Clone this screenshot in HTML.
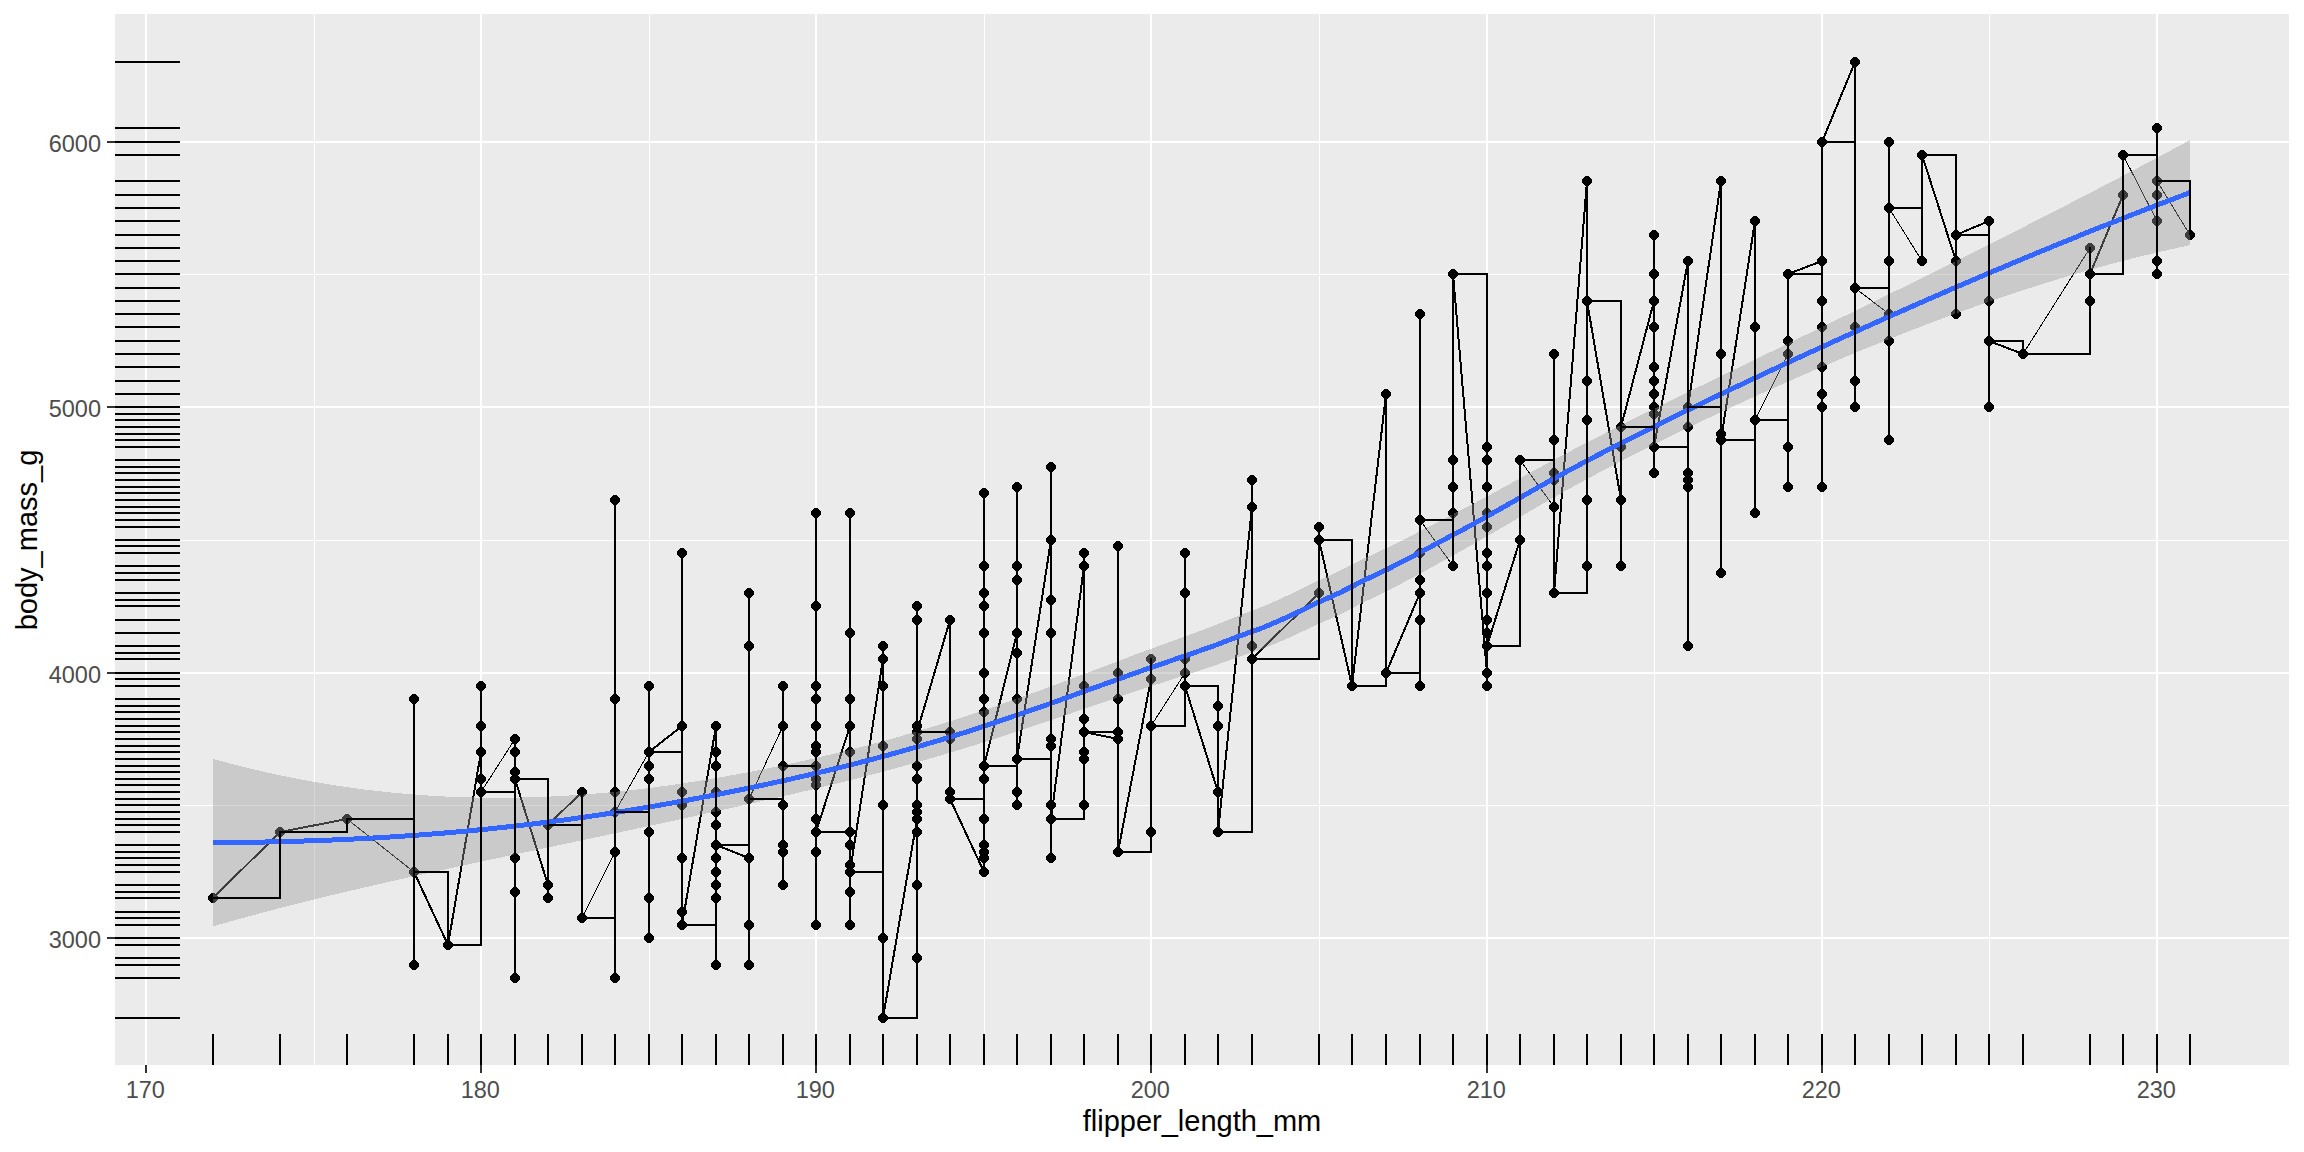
<!DOCTYPE html>
<html><head><meta charset="utf-8"><title>plot</title><style>html,body{margin:0;padding:0;background:#fff}body{width:2304px;height:1152px;overflow:hidden}</style></head><body>
<svg width="2304" height="1152" viewBox="0 0 2304 1152" style="display:block">
<rect width="2304" height="1152" fill="#fff"/>
<rect x="115" y="14" width="2174" height="1051" fill="#EBEBEB"/>
<clipPath id="c"><rect x="115" y="14" width="2174" height="1051"/></clipPath>
<g clip-path="url(#c)" shape-rendering="crispEdges">
<path d="M115 1071.5H2289M115 805.5H2289M115 540.5H2289M115 274.5H2289M115 9.5H2289M314.5 14V1065M649.5 14V1065M984.5 14V1065M1319.5 14V1065M1654.5 14V1065M1989.5 14V1065" stroke="#fff" stroke-width="1" fill="none"/>
<path d="M115 938H2289M115 673H2289M115 407H2289M115 142H2289M146 14V1065M481 14V1065M816 14V1065M1151 14V1065M1487 14V1065M1822 14V1065M2157 14V1065" stroke="#fff" stroke-width="2" fill="none"/>
<path d="M211.5 893h3l3.5 3.5v3l-3.5 3.5h-3l-3.5-3.5v-3zM278.5 827h3l3.5 3.5v3l-3.5 3.5h-3l-3.5-3.5v-3zM345.5 814h3l3.5 3.5v3l-3.5 3.5h-3l-3.5-3.5v-3zM412.5 960h3l3.5 3.5v3l-3.5 3.5h-3l-3.5-3.5v-3zM412.5 867h3l3.5 3.5v3l-3.5 3.5h-3l-3.5-3.5v-3zM412.5 694h3l3.5 3.5v3l-3.5 3.5h-3l-3.5-3.5v-3zM446.5 940h3l3.5 3.5v3l-3.5 3.5h-3l-3.5-3.5v-3zM479.5 787h3l3.5 3.5v3l-3.5 3.5h-3l-3.5-3.5v-3zM479.5 774h3l3.5 3.5v3l-3.5 3.5h-3l-3.5-3.5v-3zM479.5 747h3l3.5 3.5v3l-3.5 3.5h-3l-3.5-3.5v-3zM479.5 721h3l3.5 3.5v3l-3.5 3.5h-3l-3.5-3.5v-3zM479.5 681h3l3.5 3.5v3l-3.5 3.5h-3l-3.5-3.5v-3zM513.5 973h3l3.5 3.5v3l-3.5 3.5h-3l-3.5-3.5v-3zM513.5 887h3l3.5 3.5v3l-3.5 3.5h-3l-3.5-3.5v-3zM513.5 853h3l3.5 3.5v3l-3.5 3.5h-3l-3.5-3.5v-3zM513.5 774h3l3.5 3.5v3l-3.5 3.5h-3l-3.5-3.5v-3zM513.5 767h3l3.5 3.5v3l-3.5 3.5h-3l-3.5-3.5v-3zM513.5 747h3l3.5 3.5v3l-3.5 3.5h-3l-3.5-3.5v-3zM513.5 734h3l3.5 3.5v3l-3.5 3.5h-3l-3.5-3.5v-3zM546.5 893h3l3.5 3.5v3l-3.5 3.5h-3l-3.5-3.5v-3zM546.5 880h3l3.5 3.5v3l-3.5 3.5h-3l-3.5-3.5v-3zM546.5 820h3l3.5 3.5v3l-3.5 3.5h-3l-3.5-3.5v-3zM580.5 913h3l3.5 3.5v3l-3.5 3.5h-3l-3.5-3.5v-3zM580.5 787h3l3.5 3.5v3l-3.5 3.5h-3l-3.5-3.5v-3zM613.5 973h3l3.5 3.5v3l-3.5 3.5h-3l-3.5-3.5v-3zM613.5 847h3l3.5 3.5v3l-3.5 3.5h-3l-3.5-3.5v-3zM613.5 807h3l3.5 3.5v3l-3.5 3.5h-3l-3.5-3.5v-3zM613.5 787h3l3.5 3.5v3l-3.5 3.5h-3l-3.5-3.5v-3zM613.5 694h3l3.5 3.5v3l-3.5 3.5h-3l-3.5-3.5v-3zM613.5 495h3l3.5 3.5v3l-3.5 3.5h-3l-3.5-3.5v-3zM647.5 933h3l3.5 3.5v3l-3.5 3.5h-3l-3.5-3.5v-3zM647.5 893h3l3.5 3.5v3l-3.5 3.5h-3l-3.5-3.5v-3zM647.5 827h3l3.5 3.5v3l-3.5 3.5h-3l-3.5-3.5v-3zM647.5 774h3l3.5 3.5v3l-3.5 3.5h-3l-3.5-3.5v-3zM647.5 761h3l3.5 3.5v3l-3.5 3.5h-3l-3.5-3.5v-3zM647.5 747h3l3.5 3.5v3l-3.5 3.5h-3l-3.5-3.5v-3zM647.5 681h3l3.5 3.5v3l-3.5 3.5h-3l-3.5-3.5v-3zM680.5 920h3l3.5 3.5v3l-3.5 3.5h-3l-3.5-3.5v-3zM680.5 907h3l3.5 3.5v3l-3.5 3.5h-3l-3.5-3.5v-3zM680.5 853h3l3.5 3.5v3l-3.5 3.5h-3l-3.5-3.5v-3zM680.5 800h3l3.5 3.5v3l-3.5 3.5h-3l-3.5-3.5v-3zM680.5 787h3l3.5 3.5v3l-3.5 3.5h-3l-3.5-3.5v-3zM680.5 721h3l3.5 3.5v3l-3.5 3.5h-3l-3.5-3.5v-3zM680.5 548h3l3.5 3.5v3l-3.5 3.5h-3l-3.5-3.5v-3zM714.5 960h3l3.5 3.5v3l-3.5 3.5h-3l-3.5-3.5v-3zM714.5 893h3l3.5 3.5v3l-3.5 3.5h-3l-3.5-3.5v-3zM714.5 880h3l3.5 3.5v3l-3.5 3.5h-3l-3.5-3.5v-3zM714.5 867h3l3.5 3.5v3l-3.5 3.5h-3l-3.5-3.5v-3zM714.5 853h3l3.5 3.5v3l-3.5 3.5h-3l-3.5-3.5v-3zM714.5 840h3l3.5 3.5v3l-3.5 3.5h-3l-3.5-3.5v-3zM714.5 820h3l3.5 3.5v3l-3.5 3.5h-3l-3.5-3.5v-3zM714.5 807h3l3.5 3.5v3l-3.5 3.5h-3l-3.5-3.5v-3zM714.5 787h3l3.5 3.5v3l-3.5 3.5h-3l-3.5-3.5v-3zM714.5 761h3l3.5 3.5v3l-3.5 3.5h-3l-3.5-3.5v-3zM714.5 747h3l3.5 3.5v3l-3.5 3.5h-3l-3.5-3.5v-3zM714.5 721h3l3.5 3.5v3l-3.5 3.5h-3l-3.5-3.5v-3zM747.5 960h3l3.5 3.5v3l-3.5 3.5h-3l-3.5-3.5v-3zM747.5 920h3l3.5 3.5v3l-3.5 3.5h-3l-3.5-3.5v-3zM747.5 853h3l3.5 3.5v3l-3.5 3.5h-3l-3.5-3.5v-3zM747.5 794h3l3.5 3.5v3l-3.5 3.5h-3l-3.5-3.5v-3zM747.5 641h3l3.5 3.5v3l-3.5 3.5h-3l-3.5-3.5v-3zM747.5 588h3l3.5 3.5v3l-3.5 3.5h-3l-3.5-3.5v-3zM781.5 880h3l3.5 3.5v3l-3.5 3.5h-3l-3.5-3.5v-3zM781.5 847h3l3.5 3.5v3l-3.5 3.5h-3l-3.5-3.5v-3zM781.5 840h3l3.5 3.5v3l-3.5 3.5h-3l-3.5-3.5v-3zM781.5 800h3l3.5 3.5v3l-3.5 3.5h-3l-3.5-3.5v-3zM781.5 761h3l3.5 3.5v3l-3.5 3.5h-3l-3.5-3.5v-3zM781.5 721h3l3.5 3.5v3l-3.5 3.5h-3l-3.5-3.5v-3zM781.5 681h3l3.5 3.5v3l-3.5 3.5h-3l-3.5-3.5v-3zM814.5 920h3l3.5 3.5v3l-3.5 3.5h-3l-3.5-3.5v-3zM814.5 847h3l3.5 3.5v3l-3.5 3.5h-3l-3.5-3.5v-3zM814.5 827h3l3.5 3.5v3l-3.5 3.5h-3l-3.5-3.5v-3zM814.5 814h3l3.5 3.5v3l-3.5 3.5h-3l-3.5-3.5v-3zM814.5 780h3l3.5 3.5v3l-3.5 3.5h-3l-3.5-3.5v-3zM814.5 774h3l3.5 3.5v3l-3.5 3.5h-3l-3.5-3.5v-3zM814.5 761h3l3.5 3.5v3l-3.5 3.5h-3l-3.5-3.5v-3zM814.5 747h3l3.5 3.5v3l-3.5 3.5h-3l-3.5-3.5v-3zM814.5 741h3l3.5 3.5v3l-3.5 3.5h-3l-3.5-3.5v-3zM814.5 721h3l3.5 3.5v3l-3.5 3.5h-3l-3.5-3.5v-3zM814.5 694h3l3.5 3.5v3l-3.5 3.5h-3l-3.5-3.5v-3zM814.5 681h3l3.5 3.5v3l-3.5 3.5h-3l-3.5-3.5v-3zM814.5 601h3l3.5 3.5v3l-3.5 3.5h-3l-3.5-3.5v-3zM814.5 508h3l3.5 3.5v3l-3.5 3.5h-3l-3.5-3.5v-3zM848.5 920h3l3.5 3.5v3l-3.5 3.5h-3l-3.5-3.5v-3zM848.5 887h3l3.5 3.5v3l-3.5 3.5h-3l-3.5-3.5v-3zM848.5 867h3l3.5 3.5v3l-3.5 3.5h-3l-3.5-3.5v-3zM848.5 860h3l3.5 3.5v3l-3.5 3.5h-3l-3.5-3.5v-3zM848.5 840h3l3.5 3.5v3l-3.5 3.5h-3l-3.5-3.5v-3zM848.5 827h3l3.5 3.5v3l-3.5 3.5h-3l-3.5-3.5v-3zM848.5 747h3l3.5 3.5v3l-3.5 3.5h-3l-3.5-3.5v-3zM848.5 721h3l3.5 3.5v3l-3.5 3.5h-3l-3.5-3.5v-3zM848.5 694h3l3.5 3.5v3l-3.5 3.5h-3l-3.5-3.5v-3zM848.5 628h3l3.5 3.5v3l-3.5 3.5h-3l-3.5-3.5v-3zM848.5 508h3l3.5 3.5v3l-3.5 3.5h-3l-3.5-3.5v-3zM881.5 1013h3l3.5 3.5v3l-3.5 3.5h-3l-3.5-3.5v-3zM881.5 933h3l3.5 3.5v3l-3.5 3.5h-3l-3.5-3.5v-3zM881.5 800h3l3.5 3.5v3l-3.5 3.5h-3l-3.5-3.5v-3zM881.5 741h3l3.5 3.5v3l-3.5 3.5h-3l-3.5-3.5v-3zM881.5 681h3l3.5 3.5v3l-3.5 3.5h-3l-3.5-3.5v-3zM881.5 654h3l3.5 3.5v3l-3.5 3.5h-3l-3.5-3.5v-3zM881.5 641h3l3.5 3.5v3l-3.5 3.5h-3l-3.5-3.5v-3zM915.5 953h3l3.5 3.5v3l-3.5 3.5h-3l-3.5-3.5v-3zM915.5 880h3l3.5 3.5v3l-3.5 3.5h-3l-3.5-3.5v-3zM915.5 827h3l3.5 3.5v3l-3.5 3.5h-3l-3.5-3.5v-3zM915.5 814h3l3.5 3.5v3l-3.5 3.5h-3l-3.5-3.5v-3zM915.5 807h3l3.5 3.5v3l-3.5 3.5h-3l-3.5-3.5v-3zM915.5 800h3l3.5 3.5v3l-3.5 3.5h-3l-3.5-3.5v-3zM915.5 774h3l3.5 3.5v3l-3.5 3.5h-3l-3.5-3.5v-3zM915.5 761h3l3.5 3.5v3l-3.5 3.5h-3l-3.5-3.5v-3zM915.5 734h3l3.5 3.5v3l-3.5 3.5h-3l-3.5-3.5v-3zM915.5 727h3l3.5 3.5v3l-3.5 3.5h-3l-3.5-3.5v-3zM915.5 721h3l3.5 3.5v3l-3.5 3.5h-3l-3.5-3.5v-3zM915.5 615h3l3.5 3.5v3l-3.5 3.5h-3l-3.5-3.5v-3zM915.5 601h3l3.5 3.5v3l-3.5 3.5h-3l-3.5-3.5v-3zM948.5 794h3l3.5 3.5v3l-3.5 3.5h-3l-3.5-3.5v-3zM948.5 787h3l3.5 3.5v3l-3.5 3.5h-3l-3.5-3.5v-3zM948.5 734h3l3.5 3.5v3l-3.5 3.5h-3l-3.5-3.5v-3zM948.5 727h3l3.5 3.5v3l-3.5 3.5h-3l-3.5-3.5v-3zM948.5 615h3l3.5 3.5v3l-3.5 3.5h-3l-3.5-3.5v-3zM982.5 867h3l3.5 3.5v3l-3.5 3.5h-3l-3.5-3.5v-3zM982.5 853h3l3.5 3.5v3l-3.5 3.5h-3l-3.5-3.5v-3zM982.5 847h3l3.5 3.5v3l-3.5 3.5h-3l-3.5-3.5v-3zM982.5 840h3l3.5 3.5v3l-3.5 3.5h-3l-3.5-3.5v-3zM982.5 814h3l3.5 3.5v3l-3.5 3.5h-3l-3.5-3.5v-3zM982.5 774h3l3.5 3.5v3l-3.5 3.5h-3l-3.5-3.5v-3zM982.5 761h3l3.5 3.5v3l-3.5 3.5h-3l-3.5-3.5v-3zM982.5 707h3l3.5 3.5v3l-3.5 3.5h-3l-3.5-3.5v-3zM982.5 694h3l3.5 3.5v3l-3.5 3.5h-3l-3.5-3.5v-3zM982.5 668h3l3.5 3.5v3l-3.5 3.5h-3l-3.5-3.5v-3zM982.5 628h3l3.5 3.5v3l-3.5 3.5h-3l-3.5-3.5v-3zM982.5 601h3l3.5 3.5v3l-3.5 3.5h-3l-3.5-3.5v-3zM982.5 588h3l3.5 3.5v3l-3.5 3.5h-3l-3.5-3.5v-3zM982.5 561h3l3.5 3.5v3l-3.5 3.5h-3l-3.5-3.5v-3zM982.5 488h3l3.5 3.5v3l-3.5 3.5h-3l-3.5-3.5v-3zM1015.5 800h3l3.5 3.5v3l-3.5 3.5h-3l-3.5-3.5v-3zM1015.5 787h3l3.5 3.5v3l-3.5 3.5h-3l-3.5-3.5v-3zM1015.5 754h3l3.5 3.5v3l-3.5 3.5h-3l-3.5-3.5v-3zM1015.5 694h3l3.5 3.5v3l-3.5 3.5h-3l-3.5-3.5v-3zM1015.5 648h3l3.5 3.5v3l-3.5 3.5h-3l-3.5-3.5v-3zM1015.5 628h3l3.5 3.5v3l-3.5 3.5h-3l-3.5-3.5v-3zM1015.5 575h3l3.5 3.5v3l-3.5 3.5h-3l-3.5-3.5v-3zM1015.5 561h3l3.5 3.5v3l-3.5 3.5h-3l-3.5-3.5v-3zM1015.5 482h3l3.5 3.5v3l-3.5 3.5h-3l-3.5-3.5v-3zM1049.5 853h3l3.5 3.5v3l-3.5 3.5h-3l-3.5-3.5v-3zM1049.5 814h3l3.5 3.5v3l-3.5 3.5h-3l-3.5-3.5v-3zM1049.5 800h3l3.5 3.5v3l-3.5 3.5h-3l-3.5-3.5v-3zM1049.5 741h3l3.5 3.5v3l-3.5 3.5h-3l-3.5-3.5v-3zM1049.5 734h3l3.5 3.5v3l-3.5 3.5h-3l-3.5-3.5v-3zM1049.5 628h3l3.5 3.5v3l-3.5 3.5h-3l-3.5-3.5v-3zM1049.5 595h3l3.5 3.5v3l-3.5 3.5h-3l-3.5-3.5v-3zM1049.5 535h3l3.5 3.5v3l-3.5 3.5h-3l-3.5-3.5v-3zM1049.5 462h3l3.5 3.5v3l-3.5 3.5h-3l-3.5-3.5v-3zM1082.5 800h3l3.5 3.5v3l-3.5 3.5h-3l-3.5-3.5v-3zM1082.5 754h3l3.5 3.5v3l-3.5 3.5h-3l-3.5-3.5v-3zM1082.5 747h3l3.5 3.5v3l-3.5 3.5h-3l-3.5-3.5v-3zM1082.5 727h3l3.5 3.5v3l-3.5 3.5h-3l-3.5-3.5v-3zM1082.5 714h3l3.5 3.5v3l-3.5 3.5h-3l-3.5-3.5v-3zM1082.5 681h3l3.5 3.5v3l-3.5 3.5h-3l-3.5-3.5v-3zM1082.5 561h3l3.5 3.5v3l-3.5 3.5h-3l-3.5-3.5v-3zM1082.5 548h3l3.5 3.5v3l-3.5 3.5h-3l-3.5-3.5v-3zM1116.5 847h3l3.5 3.5v3l-3.5 3.5h-3l-3.5-3.5v-3zM1116.5 734h3l3.5 3.5v3l-3.5 3.5h-3l-3.5-3.5v-3zM1116.5 727h3l3.5 3.5v3l-3.5 3.5h-3l-3.5-3.5v-3zM1116.5 694h3l3.5 3.5v3l-3.5 3.5h-3l-3.5-3.5v-3zM1116.5 668h3l3.5 3.5v3l-3.5 3.5h-3l-3.5-3.5v-3zM1116.5 541h3l3.5 3.5v3l-3.5 3.5h-3l-3.5-3.5v-3zM1149.5 827h3l3.5 3.5v3l-3.5 3.5h-3l-3.5-3.5v-3zM1149.5 721h3l3.5 3.5v3l-3.5 3.5h-3l-3.5-3.5v-3zM1149.5 674h3l3.5 3.5v3l-3.5 3.5h-3l-3.5-3.5v-3zM1149.5 654h3l3.5 3.5v3l-3.5 3.5h-3l-3.5-3.5v-3zM1183.5 681h3l3.5 3.5v3l-3.5 3.5h-3l-3.5-3.5v-3zM1183.5 668h3l3.5 3.5v3l-3.5 3.5h-3l-3.5-3.5v-3zM1183.5 654h3l3.5 3.5v3l-3.5 3.5h-3l-3.5-3.5v-3zM1183.5 588h3l3.5 3.5v3l-3.5 3.5h-3l-3.5-3.5v-3zM1183.5 548h3l3.5 3.5v3l-3.5 3.5h-3l-3.5-3.5v-3zM1216.5 827h3l3.5 3.5v3l-3.5 3.5h-3l-3.5-3.5v-3zM1216.5 787h3l3.5 3.5v3l-3.5 3.5h-3l-3.5-3.5v-3zM1216.5 721h3l3.5 3.5v3l-3.5 3.5h-3l-3.5-3.5v-3zM1216.5 701h3l3.5 3.5v3l-3.5 3.5h-3l-3.5-3.5v-3zM1250.5 654h3l3.5 3.5v3l-3.5 3.5h-3l-3.5-3.5v-3zM1250.5 641h3l3.5 3.5v3l-3.5 3.5h-3l-3.5-3.5v-3zM1250.5 502h3l3.5 3.5v3l-3.5 3.5h-3l-3.5-3.5v-3zM1250.5 475h3l3.5 3.5v3l-3.5 3.5h-3l-3.5-3.5v-3zM1317.5 588h3l3.5 3.5v3l-3.5 3.5h-3l-3.5-3.5v-3zM1317.5 535h3l3.5 3.5v3l-3.5 3.5h-3l-3.5-3.5v-3zM1317.5 522h3l3.5 3.5v3l-3.5 3.5h-3l-3.5-3.5v-3zM1350.5 681h3l3.5 3.5v3l-3.5 3.5h-3l-3.5-3.5v-3zM1384.5 668h3l3.5 3.5v3l-3.5 3.5h-3l-3.5-3.5v-3zM1384.5 389h3l3.5 3.5v3l-3.5 3.5h-3l-3.5-3.5v-3zM1418.5 681h3l3.5 3.5v3l-3.5 3.5h-3l-3.5-3.5v-3zM1418.5 615h3l3.5 3.5v3l-3.5 3.5h-3l-3.5-3.5v-3zM1418.5 588h3l3.5 3.5v3l-3.5 3.5h-3l-3.5-3.5v-3zM1418.5 575h3l3.5 3.5v3l-3.5 3.5h-3l-3.5-3.5v-3zM1418.5 548h3l3.5 3.5v3l-3.5 3.5h-3l-3.5-3.5v-3zM1418.5 515h3l3.5 3.5v3l-3.5 3.5h-3l-3.5-3.5v-3zM1418.5 309h3l3.5 3.5v3l-3.5 3.5h-3l-3.5-3.5v-3zM1451.5 561h3l3.5 3.5v3l-3.5 3.5h-3l-3.5-3.5v-3zM1451.5 508h3l3.5 3.5v3l-3.5 3.5h-3l-3.5-3.5v-3zM1451.5 482h3l3.5 3.5v3l-3.5 3.5h-3l-3.5-3.5v-3zM1451.5 455h3l3.5 3.5v3l-3.5 3.5h-3l-3.5-3.5v-3zM1451.5 269h3l3.5 3.5v3l-3.5 3.5h-3l-3.5-3.5v-3zM1485.5 681h3l3.5 3.5v3l-3.5 3.5h-3l-3.5-3.5v-3zM1485.5 668h3l3.5 3.5v3l-3.5 3.5h-3l-3.5-3.5v-3zM1485.5 641h3l3.5 3.5v3l-3.5 3.5h-3l-3.5-3.5v-3zM1485.5 628h3l3.5 3.5v3l-3.5 3.5h-3l-3.5-3.5v-3zM1485.5 615h3l3.5 3.5v3l-3.5 3.5h-3l-3.5-3.5v-3zM1485.5 588h3l3.5 3.5v3l-3.5 3.5h-3l-3.5-3.5v-3zM1485.5 561h3l3.5 3.5v3l-3.5 3.5h-3l-3.5-3.5v-3zM1485.5 548h3l3.5 3.5v3l-3.5 3.5h-3l-3.5-3.5v-3zM1485.5 522h3l3.5 3.5v3l-3.5 3.5h-3l-3.5-3.5v-3zM1485.5 508h3l3.5 3.5v3l-3.5 3.5h-3l-3.5-3.5v-3zM1485.5 482h3l3.5 3.5v3l-3.5 3.5h-3l-3.5-3.5v-3zM1485.5 455h3l3.5 3.5v3l-3.5 3.5h-3l-3.5-3.5v-3zM1485.5 442h3l3.5 3.5v3l-3.5 3.5h-3l-3.5-3.5v-3zM1518.5 535h3l3.5 3.5v3l-3.5 3.5h-3l-3.5-3.5v-3zM1518.5 455h3l3.5 3.5v3l-3.5 3.5h-3l-3.5-3.5v-3zM1552.5 588h3l3.5 3.5v3l-3.5 3.5h-3l-3.5-3.5v-3zM1552.5 502h3l3.5 3.5v3l-3.5 3.5h-3l-3.5-3.5v-3zM1552.5 475h3l3.5 3.5v3l-3.5 3.5h-3l-3.5-3.5v-3zM1552.5 468h3l3.5 3.5v3l-3.5 3.5h-3l-3.5-3.5v-3zM1552.5 435h3l3.5 3.5v3l-3.5 3.5h-3l-3.5-3.5v-3zM1552.5 349h3l3.5 3.5v3l-3.5 3.5h-3l-3.5-3.5v-3zM1585.5 561h3l3.5 3.5v3l-3.5 3.5h-3l-3.5-3.5v-3zM1585.5 495h3l3.5 3.5v3l-3.5 3.5h-3l-3.5-3.5v-3zM1585.5 415h3l3.5 3.5v3l-3.5 3.5h-3l-3.5-3.5v-3zM1585.5 376h3l3.5 3.5v3l-3.5 3.5h-3l-3.5-3.5v-3zM1585.5 296h3l3.5 3.5v3l-3.5 3.5h-3l-3.5-3.5v-3zM1585.5 176h3l3.5 3.5v3l-3.5 3.5h-3l-3.5-3.5v-3zM1619.5 561h3l3.5 3.5v3l-3.5 3.5h-3l-3.5-3.5v-3zM1619.5 495h3l3.5 3.5v3l-3.5 3.5h-3l-3.5-3.5v-3zM1619.5 442h3l3.5 3.5v3l-3.5 3.5h-3l-3.5-3.5v-3zM1619.5 422h3l3.5 3.5v3l-3.5 3.5h-3l-3.5-3.5v-3zM1652.5 468h3l3.5 3.5v3l-3.5 3.5h-3l-3.5-3.5v-3zM1652.5 442h3l3.5 3.5v3l-3.5 3.5h-3l-3.5-3.5v-3zM1652.5 409h3l3.5 3.5v3l-3.5 3.5h-3l-3.5-3.5v-3zM1652.5 402h3l3.5 3.5v3l-3.5 3.5h-3l-3.5-3.5v-3zM1652.5 389h3l3.5 3.5v3l-3.5 3.5h-3l-3.5-3.5v-3zM1652.5 376h3l3.5 3.5v3l-3.5 3.5h-3l-3.5-3.5v-3zM1652.5 362h3l3.5 3.5v3l-3.5 3.5h-3l-3.5-3.5v-3zM1652.5 322h3l3.5 3.5v3l-3.5 3.5h-3l-3.5-3.5v-3zM1652.5 296h3l3.5 3.5v3l-3.5 3.5h-3l-3.5-3.5v-3zM1652.5 269h3l3.5 3.5v3l-3.5 3.5h-3l-3.5-3.5v-3zM1652.5 230h3l3.5 3.5v3l-3.5 3.5h-3l-3.5-3.5v-3zM1686.5 641h3l3.5 3.5v3l-3.5 3.5h-3l-3.5-3.5v-3zM1686.5 482h3l3.5 3.5v3l-3.5 3.5h-3l-3.5-3.5v-3zM1686.5 475h3l3.5 3.5v3l-3.5 3.5h-3l-3.5-3.5v-3zM1686.5 468h3l3.5 3.5v3l-3.5 3.5h-3l-3.5-3.5v-3zM1686.5 422h3l3.5 3.5v3l-3.5 3.5h-3l-3.5-3.5v-3zM1686.5 402h3l3.5 3.5v3l-3.5 3.5h-3l-3.5-3.5v-3zM1686.5 256h3l3.5 3.5v3l-3.5 3.5h-3l-3.5-3.5v-3zM1719.5 568h3l3.5 3.5v3l-3.5 3.5h-3l-3.5-3.5v-3zM1719.5 435h3l3.5 3.5v3l-3.5 3.5h-3l-3.5-3.5v-3zM1719.5 429h3l3.5 3.5v3l-3.5 3.5h-3l-3.5-3.5v-3zM1719.5 349h3l3.5 3.5v3l-3.5 3.5h-3l-3.5-3.5v-3zM1719.5 176h3l3.5 3.5v3l-3.5 3.5h-3l-3.5-3.5v-3zM1753.5 508h3l3.5 3.5v3l-3.5 3.5h-3l-3.5-3.5v-3zM1753.5 415h3l3.5 3.5v3l-3.5 3.5h-3l-3.5-3.5v-3zM1753.5 322h3l3.5 3.5v3l-3.5 3.5h-3l-3.5-3.5v-3zM1753.5 216h3l3.5 3.5v3l-3.5 3.5h-3l-3.5-3.5v-3zM1786.5 482h3l3.5 3.5v3l-3.5 3.5h-3l-3.5-3.5v-3zM1786.5 442h3l3.5 3.5v3l-3.5 3.5h-3l-3.5-3.5v-3zM1786.5 349h3l3.5 3.5v3l-3.5 3.5h-3l-3.5-3.5v-3zM1786.5 336h3l3.5 3.5v3l-3.5 3.5h-3l-3.5-3.5v-3zM1786.5 269h3l3.5 3.5v3l-3.5 3.5h-3l-3.5-3.5v-3zM1820.5 482h3l3.5 3.5v3l-3.5 3.5h-3l-3.5-3.5v-3zM1820.5 402h3l3.5 3.5v3l-3.5 3.5h-3l-3.5-3.5v-3zM1820.5 389h3l3.5 3.5v3l-3.5 3.5h-3l-3.5-3.5v-3zM1820.5 362h3l3.5 3.5v3l-3.5 3.5h-3l-3.5-3.5v-3zM1820.5 322h3l3.5 3.5v3l-3.5 3.5h-3l-3.5-3.5v-3zM1820.5 296h3l3.5 3.5v3l-3.5 3.5h-3l-3.5-3.5v-3zM1820.5 256h3l3.5 3.5v3l-3.5 3.5h-3l-3.5-3.5v-3zM1820.5 137h3l3.5 3.5v3l-3.5 3.5h-3l-3.5-3.5v-3zM1853.5 402h3l3.5 3.5v3l-3.5 3.5h-3l-3.5-3.5v-3zM1853.5 376h3l3.5 3.5v3l-3.5 3.5h-3l-3.5-3.5v-3zM1853.5 322h3l3.5 3.5v3l-3.5 3.5h-3l-3.5-3.5v-3zM1853.5 283h3l3.5 3.5v3l-3.5 3.5h-3l-3.5-3.5v-3zM1853.5 57h3l3.5 3.5v3l-3.5 3.5h-3l-3.5-3.5v-3zM1887.5 435h3l3.5 3.5v3l-3.5 3.5h-3l-3.5-3.5v-3zM1887.5 336h3l3.5 3.5v3l-3.5 3.5h-3l-3.5-3.5v-3zM1887.5 309h3l3.5 3.5v3l-3.5 3.5h-3l-3.5-3.5v-3zM1887.5 256h3l3.5 3.5v3l-3.5 3.5h-3l-3.5-3.5v-3zM1887.5 203h3l3.5 3.5v3l-3.5 3.5h-3l-3.5-3.5v-3zM1887.5 137h3l3.5 3.5v3l-3.5 3.5h-3l-3.5-3.5v-3zM1920.5 256h3l3.5 3.5v3l-3.5 3.5h-3l-3.5-3.5v-3zM1920.5 150h3l3.5 3.5v3l-3.5 3.5h-3l-3.5-3.5v-3zM1954.5 309h3l3.5 3.5v3l-3.5 3.5h-3l-3.5-3.5v-3zM1954.5 256h3l3.5 3.5v3l-3.5 3.5h-3l-3.5-3.5v-3zM1954.5 230h3l3.5 3.5v3l-3.5 3.5h-3l-3.5-3.5v-3zM1987.5 402h3l3.5 3.5v3l-3.5 3.5h-3l-3.5-3.5v-3zM1987.5 336h3l3.5 3.5v3l-3.5 3.5h-3l-3.5-3.5v-3zM1987.5 296h3l3.5 3.5v3l-3.5 3.5h-3l-3.5-3.5v-3zM1987.5 216h3l3.5 3.5v3l-3.5 3.5h-3l-3.5-3.5v-3zM2021.5 349h3l3.5 3.5v3l-3.5 3.5h-3l-3.5-3.5v-3zM2088.5 296h3l3.5 3.5v3l-3.5 3.5h-3l-3.5-3.5v-3zM2088.5 269h3l3.5 3.5v3l-3.5 3.5h-3l-3.5-3.5v-3zM2088.5 243h3l3.5 3.5v3l-3.5 3.5h-3l-3.5-3.5v-3zM2121.5 190h3l3.5 3.5v3l-3.5 3.5h-3l-3.5-3.5v-3zM2121.5 150h3l3.5 3.5v3l-3.5 3.5h-3l-3.5-3.5v-3zM2155.5 269h3l3.5 3.5v3l-3.5 3.5h-3l-3.5-3.5v-3zM2155.5 256h3l3.5 3.5v3l-3.5 3.5h-3l-3.5-3.5v-3zM2155.5 216h3l3.5 3.5v3l-3.5 3.5h-3l-3.5-3.5v-3zM2155.5 190h3l3.5 3.5v3l-3.5 3.5h-3l-3.5-3.5v-3zM2155.5 176h3l3.5 3.5v3l-3.5 3.5h-3l-3.5-3.5v-3zM2155.5 123h3l3.5 3.5v3l-3.5 3.5h-3l-3.5-3.5v-3zM2188.5 230h3l3.5 3.5v3l-3.5 3.5h-3l-3.5-3.5v-3z" fill="#000" stroke="none"/>
<path d="M213 898L280 832M280 832L347 819M414 872V699M414 699V965M414 965V872M414 872L448 945M448 945L481 752M481 752V686M481 686V792M481 792V792M515 739V739M515 739V978M515 978V779M515 779L548 885M548 885V825M548 825V898M548 898V825M548 825L582 792M582 792V792M582 792V918M582 918V918M615 852V500M615 500V978M615 978V812M649 752V686M649 686V938M649 938V752M649 752L682 726M682 726V553M682 553V925M682 925V925M682 925L716 726M716 726V726M716 726V965M716 965V845M716 845L749 858M749 858V593M749 593V965M749 965V799M783 726V686M783 686V885M783 885V766M783 766L816 766M816 766V513M816 513V925M816 925V832M816 832L850 726M850 726V513M850 513V925M850 925V872M850 872L883 659M883 659V646M883 646V1018M883 1018V1018M883 1018L917 819M917 819V606M917 606V958M917 958V732M917 732L950 620M950 620V620M950 620V799M950 799V799M950 799L984 872M984 872V493M984 493V872M984 872V766M984 766L1017 633M1017 633V487M1017 487V805M1017 805V759M1017 759L1051 540M1051 540V467M1051 467V858M1051 858V819M1051 819L1084 566M1084 566V553M1084 553V805M1084 805V732M1084 732L1118 739M1118 739V546M1118 546V852M1118 852V852M1118 852L1151 679M1151 679V659M1151 659V832M1151 832V726M1185 673V553M1185 553V686M1185 686V686M1185 686L1218 792M1218 792V706M1218 706V832M1218 832V832M1218 832L1252 507M1252 507V480M1252 480V659M1252 659V659M1252 659L1319 593M1319 593V527M1319 527V593M1319 593V540M1319 540L1352 686M1352 686L1386 394M1386 394V394M1386 394V673M1386 673V673M1386 673L1420 593M1420 593V314M1420 314V686M1420 686V520M1453 566V274M1453 274V566M1453 566V274M1453 274L1487 673M1487 673V447M1487 447V686M1487 686V646M1487 646L1520 540M1520 540V460M1520 460V540M1520 540V460M1554 507V354M1554 354V593M1554 593V593M1554 593L1587 181M1587 181V181M1587 181V566M1587 566V301M1587 301L1621 500M1621 500V427M1621 427V566M1621 566V427M1621 427L1654 301M1654 301V235M1654 235V473M1654 473V447M1654 447L1688 261M1688 261V261M1688 261V646M1688 646V407M1688 407L1721 181M1721 181V181M1721 181V573M1721 573V440M1721 440L1755 221M1755 221V221M1755 221V513M1755 513V420M1788 354V274M1788 274V487M1788 487V274M1788 274L1822 261M1822 261V142M1822 142V487M1822 487V142M1822 142L1855 62M1855 62V62M1855 62V407M1855 407V288M1889 314V142M1889 142V440M1889 440V208M1922 261V155M1922 155V261M1922 261V155M1922 155L1956 261M1956 261V235M1956 235V314M1956 314V235M1956 235L1989 221M1989 221V221M1989 221V407M1989 407V341M1989 341L2023 354M2090 248V248M2090 248V301M2090 301V274M2090 274L2123 195M2123 195V155M2123 155V195M2123 195V155M2157 221V128M2157 128V274M2157 274V181" stroke="#000" stroke-width="2" fill="none" stroke-linecap="round"/>
<path d="M347 819L414 872M481 792L515 739M582 918L615 852M615 812L649 752M749 799L783 726M1151 726L1185 673M1420 520L1453 566M1520 460L1554 507M1755 420L1788 354M1855 288L1889 314M1889 208L1922 261M2023 354L2090 248M2123 155L2157 221M2157 181L2190 235" stroke="#000" stroke-width="1" fill="none" stroke-linecap="round"/>
<path d="M213 758.85L238.03 765.55L263.05 771.6L288.08 777L313.1 781.76L338.13 785.89L363.15 789.39L388.18 792.27L413.2 794.54L438.23 796.21L463.25 797.29L488.28 797.78L513.3 797.71L538.33 797.08L563.35 795.9L588.38 794.21L613.41 792L638.43 789.3L663.46 786.13L688.48 782.51L713.51 778.47L738.53 774.04L763.56 769.24L788.58 764.07L813.61 758.54L838.63 752.64L863.66 746.34L888.68 739.63L913.71 732.42L938.73 724.93L963.76 717.01L988.78 708.6L1013.81 699.72L1038.84 690.91L1063.86 681.54L1088.89 672.13L1113.91 662.77L1138.94 653.2L1163.96 644.08L1188.99 634.97L1214.01 625.68L1239.04 615.56L1264.06 606.16L1289.09 594.9L1314.11 582.5L1339.14 571.18L1364.16 558.53L1389.19 546.81L1414.22 534.18L1439.24 521.26L1464.27 508.47L1489.29 495.2L1514.32 481.5L1539.34 467.73L1564.37 454.27L1589.39 441.21L1614.42 428.47L1639.44 415.97L1664.47 403.62L1689.49 391.38L1714.52 379.19L1739.54 367.04L1764.57 354.9L1789.59 342.75L1814.62 330.58L1839.65 318.39L1864.67 306.15L1889.7 293.87L1914.72 281.53L1939.75 269.12L1964.77 256.65L1989.8 244.09L2014.82 231.46L2039.85 218.73L2064.87 205.91L2089.9 192.99L2114.92 179.95L2139.95 166.79L2164.97 153.5L2190 140.07L2190 245.16L2164.97 250.63L2139.95 256.58L2114.92 262.99L2089.9 269.84L2064.87 277.12L2039.85 284.82L2014.82 292.92L1989.8 301.41L1964.77 310.26L1939.75 319.45L1914.72 328.97L1889.7 338.81L1864.67 348.93L1839.65 359.33L1814.62 370L1789.59 380.92L1764.57 392.09L1739.54 403.51L1714.52 415.17L1689.49 427.09L1664.47 439.28L1639.44 451.76L1614.42 464.58L1589.39 477.79L1564.37 491.48L1539.34 505.71L1514.32 520.37L1489.29 535.06L1464.27 549.34L1439.24 563.08L1414.22 576.81L1389.19 590.04L1364.16 602.11L1339.14 614.86L1314.11 625.96L1289.09 637.83L1264.06 648.33L1239.04 656.78L1214.01 665.85L1188.99 674.05L1163.96 682.09L1138.94 690.19L1113.91 698.79L1088.89 707.24L1063.86 715.8L1038.84 724.39L1013.81 732.48L988.78 740.75L963.76 748.6L938.73 756.07L913.71 763.21L888.68 770.17L863.66 776.74L838.63 783.02L813.61 789.08L788.58 794.97L763.56 800.73L738.53 806.39L713.51 811.96L688.48 817.47L663.46 822.92L638.43 828.31L613.41 833.66L588.38 838.97L563.35 844.25L538.33 849.53L513.3 854.81L488.28 860.12L463.25 865.47L438.23 870.89L413.2 876.39L388.18 882L363.15 887.75L338.13 893.65L313.1 899.72L288.08 906L263.05 912.51L238.03 919.27L213 926.32Z" fill="#999999" fill-opacity="0.4" stroke="none"/>
<path d="M213 842.58L238.03 842.41L263.05 842.05L288.08 841.5L313.1 840.74L338.13 839.77L363.15 838.57L388.18 837.14L413.2 835.47L438.23 833.55L463.25 831.38L488.28 828.95L513.3 826.26L538.33 823.3L563.35 820.08L588.38 816.59L613.41 812.83L638.43 808.81L663.46 804.52L688.48 799.99L713.51 795.22L738.53 790.22L763.56 784.98L788.58 779.52L813.61 773.81L838.63 767.83L863.66 761.54L888.68 754.9L913.71 747.82L938.73 740.5L963.76 732.81L988.78 724.67L1013.81 716.1L1038.84 707.65L1063.86 698.67L1088.89 689.69L1113.91 680.78L1138.94 671.7L1163.96 663.09L1188.99 654.51L1214.01 645.76L1239.04 636.17L1264.06 627.25L1289.09 616.36L1314.11 604.23L1339.14 593.02L1364.16 580.32L1389.19 568.43L1414.22 555.5L1439.24 542.17L1464.27 528.9L1489.29 515.13L1514.32 500.94L1539.34 486.72L1564.37 472.88L1589.39 459.5L1614.42 446.52L1639.44 433.87L1664.47 421.45L1689.49 409.23L1714.52 397.18L1739.54 385.27L1764.57 373.49L1789.59 361.84L1814.62 350.29L1839.65 338.86L1864.67 327.54L1889.7 316.34L1914.72 305.25L1939.75 294.29L1964.77 283.45L1989.8 272.75L2014.82 262.19L2039.85 251.78L2064.87 241.52L2089.9 231.41L2114.92 221.47L2139.95 211.68L2164.97 202.07L2190 192.62" stroke="#3366FF" stroke-width="5" fill="none" stroke-linejoin="round"/>
<path d="M213 898H280V832H347V819H414V872H414V699H414V965H414V872H448V945H481V752H481V686H481V792H481V792H515V739H515V739H515V978H515V779H548V885H548V825H548V898H548V825H582V792H582V792H582V918H582V918H615V852H615V500H615V978H615V812H649V752H649V686H649V938H649V752H682V726H682V553H682V925H682V925H716V726H716V726H716V965H716V845H749V858H749V593H749V965H749V799H783V726H783V686H783V885H783V766H816V766H816V513H816V925H816V832H850V726H850V513H850V925H850V872H883V659H883V646H883V1018H883V1018H917V819H917V606H917V958H917V732H950V620H950V620H950V799H950V799H984V872H984V493H984V872H984V766H1017V633H1017V487H1017V805H1017V759H1051V540H1051V467H1051V858H1051V819H1084V566H1084V553H1084V805H1084V732H1118V739H1118V546H1118V852H1118V852H1151V679H1151V659H1151V832H1151V726H1185V673H1185V553H1185V686H1185V686H1218V792H1218V706H1218V832H1218V832H1252V507H1252V480H1252V659H1252V659H1319V593H1319V527H1319V593H1319V540H1352V686H1386V394H1386V394H1386V673H1386V673H1420V593H1420V314H1420V686H1420V520H1453V566H1453V274H1453V566H1453V274H1487V673H1487V447H1487V686H1487V646H1520V540H1520V460H1520V540H1520V460H1554V507H1554V354H1554V593H1554V593H1587V181H1587V181H1587V566H1587V301H1621V500H1621V427H1621V566H1621V427H1654V301H1654V235H1654V473H1654V447H1688V261H1688V261H1688V646H1688V407H1721V181H1721V181H1721V573H1721V440H1755V221H1755V221H1755V513H1755V420H1788V354H1788V274H1788V487H1788V274H1822V261H1822V142H1822V487H1822V142H1855V62H1855V62H1855V407H1855V288H1889V314H1889V142H1889V440H1889V208H1922V261H1922V155H1922V261H1922V155H1956V261H1956V235H1956V314H1956V235H1989V221H1989V221H1989V407H1989V341H2023V354H2090V248H2090V248H2090V301H2090V274H2123V195H2123V155H2123V195H2123V155H2157V221H2157V128H2157V274H2157V181H2190V235" stroke="#000" stroke-width="2" fill="none" stroke-linejoin="round"/>
<path d="M213 1065V1034M280 1065V1034M347 1065V1034M414 1065V1034M448 1065V1034M481 1065V1034M515 1065V1034M548 1065V1034M582 1065V1034M615 1065V1034M649 1065V1034M682 1065V1034M716 1065V1034M749 1065V1034M783 1065V1034M816 1065V1034M850 1065V1034M883 1065V1034M917 1065V1034M950 1065V1034M984 1065V1034M1017 1065V1034M1051 1065V1034M1084 1065V1034M1118 1065V1034M1151 1065V1034M1185 1065V1034M1218 1065V1034M1252 1065V1034M1319 1065V1034M1352 1065V1034M1386 1065V1034M1420 1065V1034M1453 1065V1034M1487 1065V1034M1520 1065V1034M1554 1065V1034M1587 1065V1034M1621 1065V1034M1654 1065V1034M1688 1065V1034M1721 1065V1034M1755 1065V1034M1788 1065V1034M1822 1065V1034M1855 1065V1034M1889 1065V1034M1922 1065V1034M1956 1065V1034M1989 1065V1034M2023 1065V1034M2090 1065V1034M2123 1065V1034M2157 1065V1034M2190 1065V1034M115 1018H180M115 978H180M115 965H180M115 958H180M115 945H180M115 938H180M115 925H180M115 918H180M115 912H180M115 898H180M115 892H180M115 885H180M115 872H180M115 865H180M115 858H180M115 852H180M115 845H180M115 832H180M115 825H180M115 819H180M115 812H180M115 805H180M115 799H180M115 792H180M115 785H180M115 779H180M115 772H180M115 766H180M115 759H180M115 752H180M115 746H180M115 739H180M115 732H180M115 726H180M115 719H180M115 712H180M115 706H180M115 699H180M115 686H180M115 679H180M115 673H180M115 659H180M115 653H180M115 646H180M115 633H180M115 620H180M115 606H180M115 600H180M115 593H180M115 580H180M115 573H180M115 566H180M115 553H180M115 546H180M115 540H180M115 527H180M115 520H180M115 513H180M115 507H180M115 500H180M115 493H180M115 487H180M115 480H180M115 473H180M115 467H180M115 460H180M115 447H180M115 440H180M115 434H180M115 427H180M115 420H180M115 414H180M115 407H180M115 394H180M115 381H180M115 367H180M115 354H180M115 341H180M115 327H180M115 314H180M115 301H180M115 288H180M115 274H180M115 261H180M115 248H180M115 235H180M115 221H180M115 208H180M115 195H180M115 181H180M115 155H180M115 142H180M115 128H180M115 62H180" stroke="#000" stroke-width="2" fill="none"/>
</g>
<path d="M107 938H115M107 673H115M107 407H115M107 142H115M146 1065V1073M481 1065V1073M816 1065V1073M1151 1065V1073M1487 1065V1073M1822 1065V1073M2157 1065V1073" stroke="#333" stroke-width="2" fill="none" shape-rendering="crispEdges"/>
<g font-family="'Liberation Sans', Arial, sans-serif" font-size="23.5" fill="#4D4D4D">
<text x="101" y="948.3" text-anchor="end">3000</text>
<text x="101" y="683.3" text-anchor="end">4000</text>
<text x="101" y="417.3" text-anchor="end">5000</text>
<text x="101" y="152.3" text-anchor="end">6000</text>
<text x="145.3" y="1097.5" text-anchor="middle">170</text>
<text x="480.3" y="1097.5" text-anchor="middle">180</text>
<text x="815.3" y="1097.5" text-anchor="middle">190</text>
<text x="1150.3" y="1097.5" text-anchor="middle">200</text>
<text x="1486.3" y="1097.5" text-anchor="middle">210</text>
<text x="1821.3" y="1097.5" text-anchor="middle">220</text>
<text x="2156.3" y="1097.5" text-anchor="middle">230</text>
</g>
<g font-family="'Liberation Sans', Arial, sans-serif" font-size="29" fill="#000">
<text x="1202" y="1131.2" text-anchor="middle">flipper_length_mm</text>
<text transform="translate(36.9,540) rotate(-90)" text-anchor="middle">body_mass_g</text>
</g>
</svg>
</body></html>
